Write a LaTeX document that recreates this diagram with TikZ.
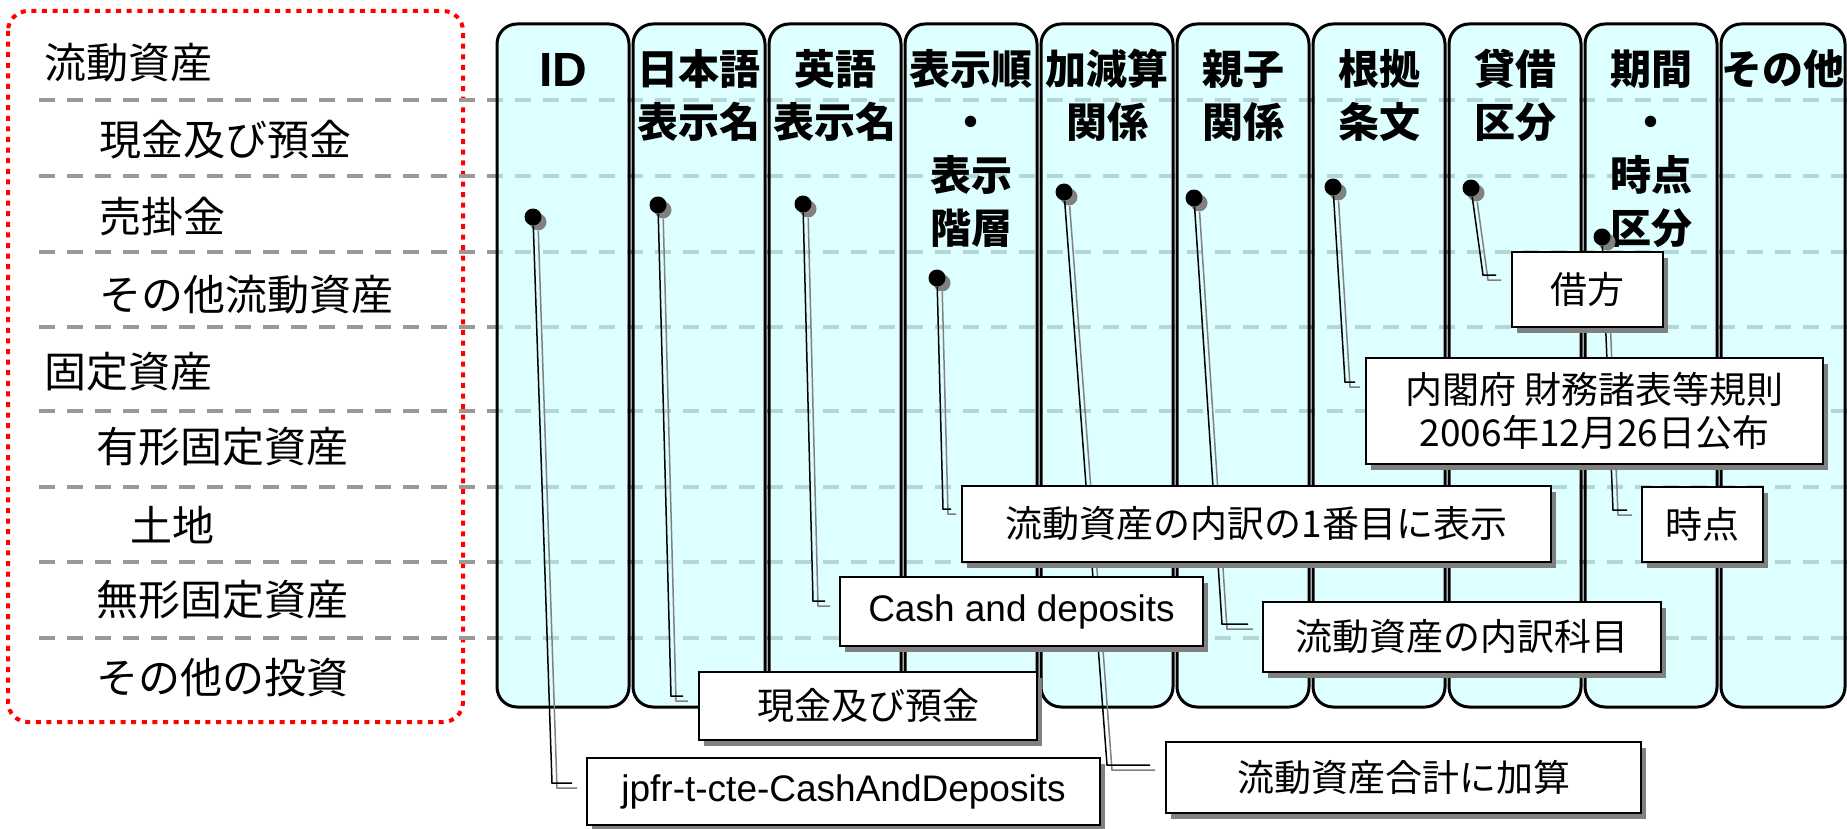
\documentclass[tikz,border=0pt]{standalone}
\usepackage{fontspec}
\setmainfont{Noto Sans CJK JP}
\newfontfamily\lat{Liberation Sans}
\usetikzlibrary{shadows}
\definecolor{colfill}{RGB}{200,255,255}
\definecolor{rowline}{RGB}{153,153,153}
\tikzset{
  rowlabel/.style={anchor=west,inner sep=0pt,font=\fontsize{21}{25}\selectfont},
  colhead/.style={anchor=north,inner sep=0pt,align=center,font=\fontsize{20.5}{26.5}\selectfont\bfseries},
  notebox/.style={draw,line width=1pt,fill=white,inner sep=0pt,align=center,font=\fontsize{18.5}{21.5}\selectfont,
    drop shadow={fill=black!50,opacity=1,shadow xshift=2.5pt,shadow yshift=-3pt}},
  tack/.style={circle,fill=black,inner sep=0pt,minimum size=8.5pt,
    drop shadow={fill=gray,opacity=1,shadow xshift=2.5pt,shadow yshift=-2.5pt}},
}
\begin{document}
\begin{tikzpicture}[x=0.5pt,y=-0.5pt]
\useasboundingbox (0,0) rectangle (1847,829);
\draw[red,line width=2pt,dash pattern=on 2.5pt off 2.8pt,rounded corners=10pt] (8,11) rectangle (463,722);
\foreach \x/\y/\t [count=\i] in {44/63/流動資産,99/140/現金及び預金,99/217/売掛金,99/295/その他流動資産,44/372/固定資産,96/447/有形固定資産,130/525/土地,96/600/無形固定資産,96/678/その他の投資}
  \node[rowlabel] (row\i) at (\x,\y) {\t};
\foreach \y in {100,176,252,327,411,487,562,638}
  \draw[rowline,line width=2pt,dash pattern=on 8pt off 6pt] (39,\y)--(1847,\y);
\foreach \t/\hy [count=\i from 0] in {{\lat\fontsize{24}{26.5}\selectfont ID}/53,日本語\\表示名/49,英語\\表示名/49,表示順\\・\\表示\\階層/49,加減算\\関係/49,親子\\関係/49,根拠\\条文/49,貸借\\区分/49,期間\\・\\時点\\区分/49,その他/49}{
  \pgfmathsetmacro{\l}{497+136*\i}
  \pgfmathsetmacro{\r}{min(\l+132,1845)}
  \draw[line width=1.5pt,fill=colfill,fill opacity=0.6,rounded corners=10pt] (\l,24) rectangle (\r,707);
  \node[colhead] (head\i) at ({(\l+\r)/2},\hy) {\t};
}
\foreach \x/\y [count=\i] in {533/217,658/205,803/204,937/278,1064/192,1194/198,1333/187,1471/188,1602/237}
  \node[tack] (pin\i) at (\x,\y) {};
\foreach \ex/\ey/\fx [count=\i] in {552/783/572,671/696/683,813/601/825,943/509/951,1107/765/1150,1222/624/1248,1345/382/1355,1483/275/1496,1613/510/1627}{
  \coordinate (pin\i-bend) at (\ex,\ey);
  \coordinate (pin\i-end) at (\fx,\ey);
  \draw[gray,line width=0.75pt,transform canvas={shift={(2.5pt,-2.5pt)}}] (pin\i)--(pin\i-bend)--(pin\i-end);
  \draw[line width=0.75pt] (pin\i)--(pin\i-bend)--(pin\i-end);
}
\foreach \n/\x/\y/\w/\h/\t in {
  box1/843.5/791.5/513/67/{\lat jpfr-t-cte-CashAndDeposits},
  box2/868/706/338/68/現金及び預金,
  box3/1021.5/611.5/363/69/{\lat Cash and deposits},
  box4/1256.5/524/589/76/流動資産の内訳の1番目に表示,
  box5/1403.5/777.5/475/71/流動資産合計に加算,
  box6/1462/637/398/70/流動資産の内訳科目,
  box7/1594.5/411/457/106/内閣府 財務諸表等規則\\2006年12月26日公布,
  box8/1587.5/289.5/151/75/借方,
  box9/1702.5/524.5/121/75/時点}
  \node[notebox,minimum width=\w*0.5pt,minimum height=\h*0.5pt] (\n) at (\x,\y) {\t};
\end{tikzpicture}
\end{document}
